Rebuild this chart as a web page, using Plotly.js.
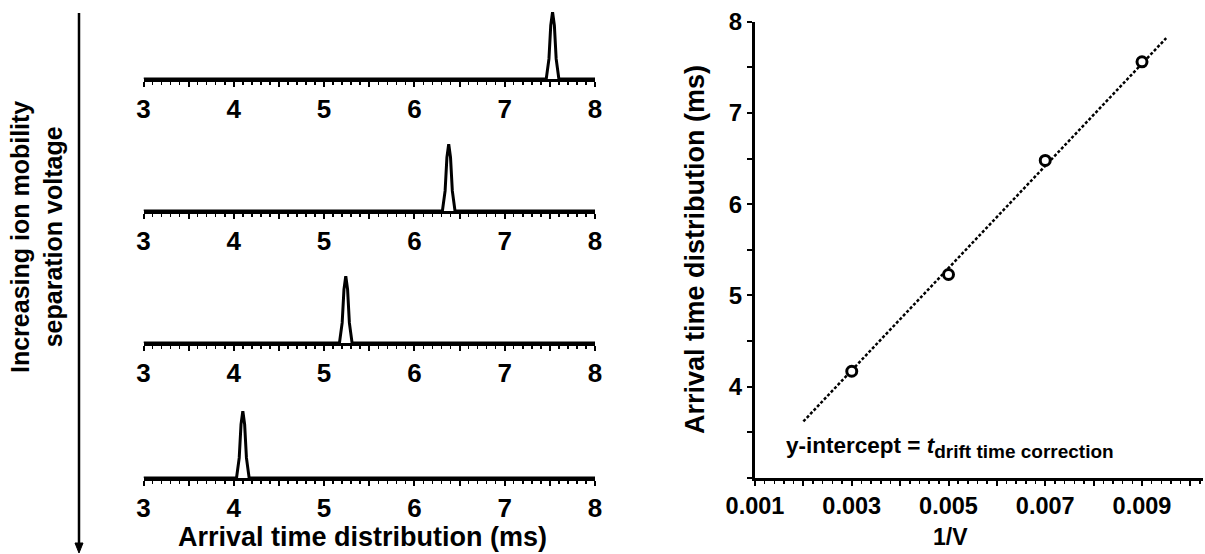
<!DOCTYPE html>
<html><head><meta charset="utf-8">
<script src="https://cdn.plot.ly/plotly-3.0.1.min.js"></script>
<style>html,body{margin:0;padding:0;background:#fff}#chart{width:1205px;height:554px}</style>
</head><body><div id="chart"></div>
<script>
// ---- Left: arrival time distributions (top panel to bottom panel) ----
const leftTickVals = [3, 3.5, 4, 4.5, 5, 5.5, 6, 6.5, 7, 7.5, 8];
const leftTickText = ['3', '', '4', '', '5', '', '6', '', '7', '', '8'];
const peak1X = [3, 7.46, 7.49, 7.51, 7.53, 7.55, 7.57, 7.60, 8];
const peak1Y = [0, 0, 0.3, 0.8, 1, 0.8, 0.3, 0, 0];
const peak2X = [3, 6.31, 6.34, 6.36, 6.38, 6.40, 6.42, 6.45, 8];
const peak2Y = [0, 0, 0.3, 0.8, 1, 0.8, 0.3, 0, 0];
const peak3X = [3, 5.17, 5.20, 5.22, 5.24, 5.26, 5.28, 5.31, 8];
const peak3Y = [0, 0, 0.3, 0.8, 1, 0.8, 0.3, 0, 0];
const peak4X = [3, 4.03, 4.06, 4.08, 4.10, 4.12, 4.14, 4.17, 8];
const peak4Y = [0, 0, 0.3, 0.8, 1, 0.8, 0.3, 0, 0];

// ---- Right: arrival time vs 1/V ----
const invV = [0.003, 0.005, 0.007, 0.009];
const arrivalTime = [4.17, 5.23, 6.48, 7.56];
const fitX = [0.002, 0.0095];
const fitY = [3.62, 7.82];
const rightXTickVals = [0.001, 0.002, 0.003, 0.004, 0.005, 0.006, 0.007, 0.008, 0.009, 0.010];
const rightXTickText = ['0.001', '', '0.003', '', '0.005', '', '0.007', '', '0.009', ''];
const rightYTickVals = [3, 3.5, 4, 4.5, 5, 5.5, 6, 6.5, 7, 7.5, 8];
const rightYTickText = ['', '', '4', '', '5', '', '6', '', '7', '', '8'];

const FONT = 'Liberation Sans, Arial, Helvetica, sans-serif';
const W = 1205, H = 554;
const px = v => v / W;
const py = v => 1 - v / H;

const peaks = [[peak1X, peak1Y], [peak2X, peak2Y], [peak3X, peak3Y], [peak4X, peak4Y]];
const panelBottoms = [79, 211, 343, 478];
const panelHeight = 67;

const traces = [];
const layout = {
  width: W, height: H,
  margin: {l: 0, r: 0, t: 0, b: 0},
  paper_bgcolor: '#fff', plot_bgcolor: 'rgba(0,0,0,0)',
  showlegend: false,
  font: {family: FONT, color: '#000'},
  annotations: [], shapes: []
};

peaks.forEach((p, i) => {
  const n = i + 1;
  const xa = n === 1 ? 'x' : 'x' + n;
  const ya = n === 1 ? 'y' : 'y' + n;
  traces.push({x: p[0], y: p[1], xaxis: xa, yaxis: ya, type: 'scatter', mode: 'lines',
    line: {color: '#000', width: 3}, cliponaxis: false, hoverinfo: 'skip'});
  const bottom = py(panelBottoms[i]);
  layout['xaxis' + (n === 1 ? '' : n)] = {
    domain: [px(143.5), px(595)], range: [3, 8], anchor: ya,
    tickmode: 'array', tickvals: leftTickVals, ticktext: leftTickText,
    ticks: 'outside', ticklen: 5, tickwidth: 2, tickcolor: '#000',
    showline: true, linewidth: 3, linecolor: '#000',
    showgrid: false, zeroline: false,
    tickfont: {family: FONT, size: 26, color: '#000', weight: 'bold'},
    minor: {tickmode: 'linear', tick0: 3, dtick: 0.1, ticks: 'outside', ticklen: 3, tickwidth: 1.5, tickcolor: '#000', showgrid: false}
  };
  layout['yaxis' + (n === 1 ? '' : n)] = {
    domain: [bottom, bottom + panelHeight / H], range: [0, 1], anchor: xa,
    visible: false, showgrid: false, zeroline: false
  };
});

traces.push({x: fitX, y: fitY, xaxis: 'x5', yaxis: 'y5', type: 'scatter', mode: 'lines',
  line: {color: '#000', width: 2.5, dash: '3px,2px'}, hoverinfo: 'skip'});
traces.push({x: invV, y: arrivalTime, xaxis: 'x5', yaxis: 'y5', type: 'scatter', mode: 'markers',
  marker: {symbol: 'circle', size: 10, color: '#fff', line: {color: '#000', width: 3}}, cliponaxis: false});

layout.xaxis5 = {
  domain: [px(755), px(1203)], range: [0.001, 0.001 + 448 / 48375], anchor: 'y5',
  tickmode: 'array', tickvals: rightXTickVals, ticktext: rightXTickText,
  ticks: 'outside', ticklen: 5, tickwidth: 2, tickcolor: '#000',
  showline: true, linewidth: 3, linecolor: '#000', showgrid: false, zeroline: false,
  tickfont: {family: FONT, size: 23.5, color: '#000', weight: 'bold'},
  minor: {tickmode: 'linear', tick0: 0.001, dtick: 0.0002, ticks: 'outside', ticklen: 3, tickwidth: 1.5, tickcolor: '#000', showgrid: false}
};
layout.yaxis5 = {
  domain: [py(478), py(21.7)], range: [3, 8], anchor: 'x5',
  tickmode: 'array', tickvals: rightYTickVals, ticktext: rightYTickText,
  ticks: 'outside', ticklen: 5, tickwidth: 2, tickcolor: '#000',
  showline: true, linewidth: 3, linecolor: '#000', showgrid: false, zeroline: false,
  tickfont: {family: FONT, size: 24, color: '#000', weight: 'bold'}
};

const boldF = s => ({family: FONT, size: s, color: '#000', weight: 'bold'});
layout.annotations.push(
  {text: 'Arrival time distribution (ms)', xref: 'paper', yref: 'paper', x: px(362), y: py(537),
   xanchor: 'center', yanchor: 'middle', showarrow: false, font: boldF(27)},
  {text: 'Increasing ion mobility<br>separation voltage', xref: 'paper', yref: 'paper', x: px(37), y: py(237),
   xanchor: 'center', yanchor: 'middle', textangle: -90, showarrow: false, font: boldF(25)},
  {text: 'Arrival time distribution (ms)', xref: 'paper', yref: 'paper', x: px(695), y: py(249),
   xanchor: 'center', yanchor: 'middle', textangle: -90, showarrow: false, font: boldF(27)},
  {text: '1/V', xref: 'paper', yref: 'paper', x: px(950), y: py(537),
   xanchor: 'center', yanchor: 'middle', showarrow: false, font: boldF(23)},
  {text: 'y-intercept = <i>t</i><sub><span style="font-size:19px">drift time correction</span></sub>',
   xref: 'paper', yref: 'paper', x: px(784), y: py(448),
   xanchor: 'left', yanchor: 'middle', showarrow: false, font: boldF(22.5)}
);

layout.shapes.push(
  {type: 'line', xref: 'paper', yref: 'paper', x0: px(79), x1: px(79), y0: py(13), y1: py(545),
   line: {color: '#000', width: 2.5}},
  {type: 'path', xref: 'paper', yref: 'paper',
   path: `M ${px(75)},${py(543)} L ${px(83)},${py(543)} L ${px(79)},${py(553)} Z`,
   fillcolor: '#000', line: {color: '#000', width: 1}}
);

Plotly.newPlot('chart', traces, layout, {staticPlot: true, displayModeBar: false});
</script>
</body></html>
